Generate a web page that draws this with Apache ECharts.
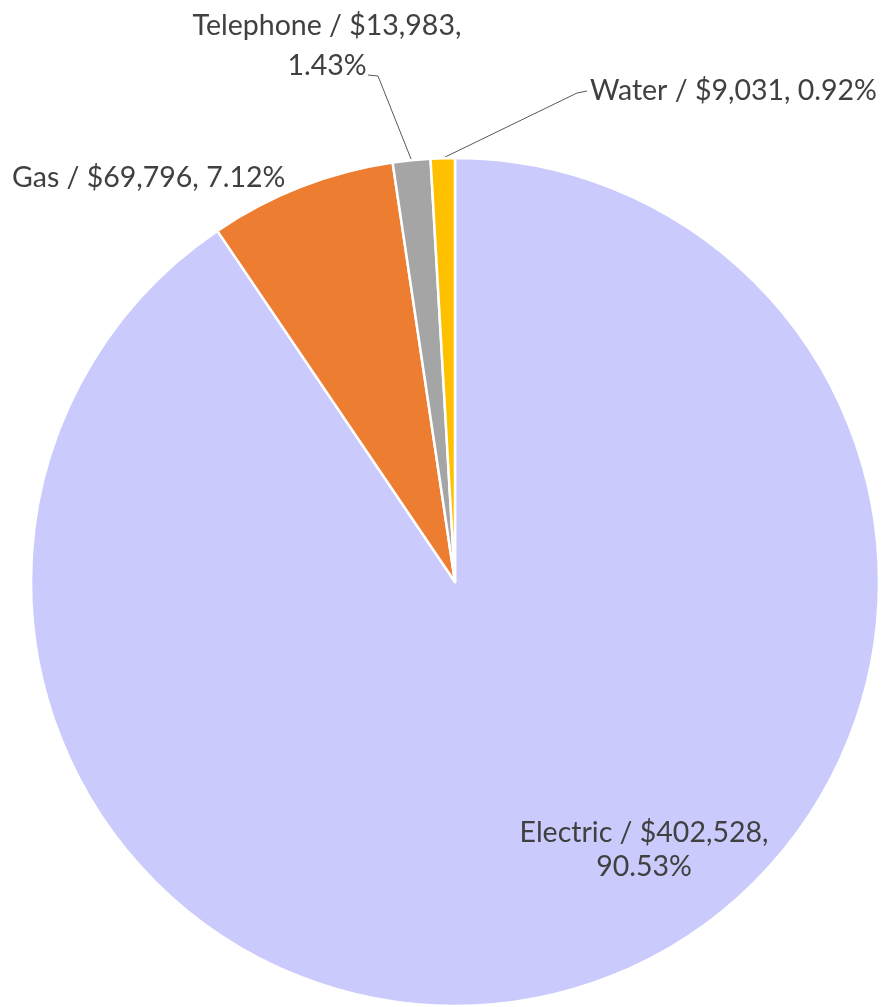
<!DOCTYPE html>
<html><head><meta charset="utf-8">
<script src="https://cdn.jsdelivr.net/npm/echarts@6/dist/echarts.min.js"></script>
<style>html,body{margin:0;padding:0;background:#fff}#c{width:885px;height:1007px}</style>
</head><body><div id="c"></div>
<script>
const categories = ['Electric', 'Gas', 'Telephone', 'Water'];
const amounts = [402528, 69796, 13983, 9031];
const percents = [90.53, 7.12, 1.43, 0.92];
const wrapLabel = [true, false, true, false];
const colors = ['#CACAFC', '#ED7D31', '#A5A5A5', '#FFC000'];

const labelPos = [
  { x: 644, y: 850, align: 'center', lh: 34 },
  { x: 12, y: 178, align: 'left', lh: 34 },
  { x: 327, y: 46, align: 'center', lh: 40 },
  { x: 590, y: 91, align: 'left', lh: 34 }
];

const data = categories.map((n, i) => ({
  name: n,
  value: percents[i],
  itemStyle: { color: colors[i] },
  label: {
    position: i === 0 ? 'inside' : 'outside',
    lineHeight: labelPos[i].lh
  },
  labelLine: { show: i === 2 || i === 3 }
}));

const chart = echarts.init(document.getElementById('c'));
chart.setOption({
  animation: false,
  series: [{
    type: 'pie',
    center: [455, 582],
    radius: 424,
    startAngle: 90,
    clockwise: true,
    avoidLabelOverlap: false,
    itemStyle: { borderColor: '#ffffff', borderWidth: 2.5 },
    label: {
      fontFamily: 'Lato',
      fontSize: 28.5,
      color: '#404040',
      formatter: p => {
        const i = p.dataIndex;
        return categories[i] + ' / $' + amounts[i].toLocaleString('en-US') + ',' +
          (wrapLabel[i] ? '\n' : ' ') + percents[i].toFixed(2) + '%';
      }
    },
    labelLine: { lineStyle: { color: '#595959', width: 1 }, length: 20, length2: 10 },
    labelLayout: function (params) {
      const i = params.dataIndex;
      const p = labelPos[i];
      const r = { x: p.x, y: p.y, align: p.align, verticalAlign: 'middle' };
      if (params.labelLinePoints) {
        const start = params.labelLinePoints[0];
        if (i === 2) {
          r.labelLinePoints = [start, [p.x + 51, p.y + 30], [p.x + 41, p.y + 29]];
        } else if (i === 3) {
          r.labelLinePoints = [start, [p.x - 13, p.y + 2], [p.x - 3, p.y]];
        }
      }
      return r;
    },
    data: data
  }]
});
</script>
</body></html>
